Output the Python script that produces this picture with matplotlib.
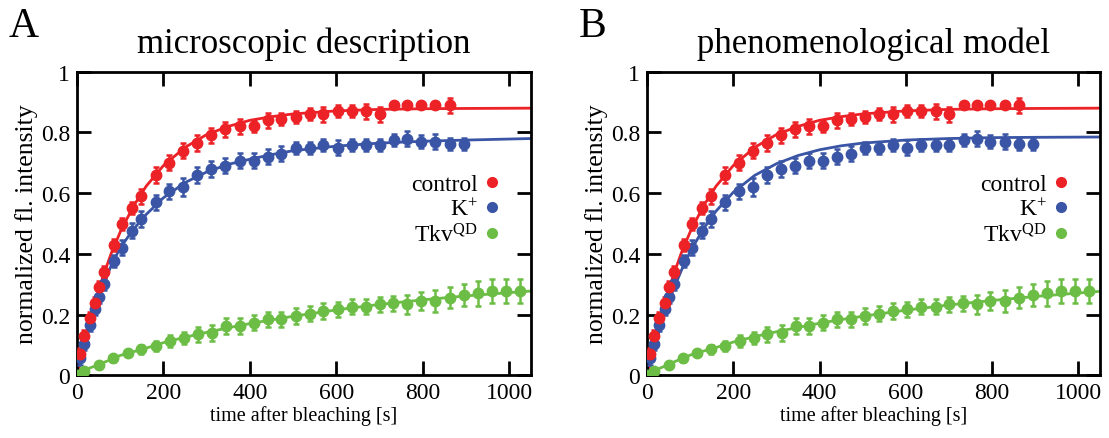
import matplotlib
matplotlib.use("Agg")
import matplotlib.pyplot as plt
from matplotlib.lines import Line2D

plt.rcParams["font.family"] = "Liberation Serif"
plt.rcParams["mathtext.fontset"] = "custom"
plt.rcParams["mathtext.rm"] = "Liberation Serif"
plt.rcParams["mathtext.it"] = "Liberation Serif:italic"

# mesures (identiques pour A et B)
t_ctrl = [6, 17, 29, 41, 50, 62, 85, 105, 127, 149, 182, 213, 245, 278, 310, 343, 376,
          409, 441, 473, 506, 538, 570, 603, 635, 669, 700, 734, 764, 796, 829, 862]
v_ctrl = [0.07, 0.13, 0.19, 0.24, 0.29, 0.34, 0.43, 0.50, 0.55, 0.59, 0.66, 0.70, 0.74,
          0.765, 0.79, 0.81, 0.82, 0.82, 0.84, 0.845, 0.85, 0.86, 0.86, 0.87, 0.87, 0.87,
          0.86, 0.89, 0.89, 0.89, 0.89, 0.89]
e_ctrl = [0.02, 0.02, 0.02, 0.02, 0.02, 0.02, 0.02, 0.02, 0.02, 0.025, 0.025, 0.025, 0.025,
          0.025, 0.025, 0.025, 0.025, 0.02, 0.025, 0.02, 0.02, 0.02, 0.025, 0.02, 0.02, 0.025,
          0.025, 0.0, 0.0, 0.0, 0.0, 0.025]

t_k = t_ctrl + [895]
v_k = [0.056, 0.105, 0.166, 0.218, 0.26, 0.30, 0.377, 0.42, 0.476, 0.515, 0.57, 0.606, 0.62,
       0.66, 0.68, 0.69, 0.707, 0.707, 0.72, 0.73, 0.75, 0.75, 0.76, 0.75, 0.76, 0.76, 0.76,
       0.775, 0.78, 0.77, 0.77, 0.762, 0.762]
e_k = [0.02, 0.02, 0.02, 0.02, 0.02, 0.02, 0.02, 0.025, 0.025, 0.025, 0.025, 0.025, 0.03,
       0.025, 0.025, 0.025, 0.025, 0.025, 0.025, 0.025, 0.02, 0.02, 0.02, 0.025, 0.02, 0.02,
       0.02, 0.02, 0.025, 0.02, 0.025, 0.02, 0.02]

t_qd = [0, 17, 51, 83, 117, 149, 182, 215, 248, 279, 312, 345, 376, 409, 441, 473, 506, 539,
        570, 603, 635, 669, 700, 732, 764, 796, 829, 862, 895, 927, 959, 992, 1024]
v_qd = [0, 0.014, 0.036, 0.056, 0.075, 0.086, 0.097, 0.114, 0.124, 0.135, 0.14, 0.163, 0.163,
        0.174, 0.185, 0.185, 0.196, 0.204, 0.212, 0.218, 0.227, 0.227, 0.234, 0.238, 0.234,
        0.245, 0.245, 0.256, 0.265, 0.27, 0.278, 0.278, 0.278]
e_qd = [0, 0, 0, 0.01, 0.01, 0.015, 0.015, 0.02, 0.02, 0.025, 0.025, 0.025, 0.025, 0.025,
        0.025, 0.025, 0.025, 0.025, 0.025, 0.025, 0.025, 0.025, 0.025, 0.025, 0.03, 0.03,
        0.035, 0.035, 0.035, 0.04, 0.04, 0.04, 0.04]

# courbes des modèles
t_fit = [0, 20, 40, 60, 80, 100, 130, 160, 200, 250, 300, 350, 400, 450, 500, 600, 700,
         800, 900, 1050]
fitA_ctrl = [0, 0.126, 0.233, 0.325, 0.405, 0.472, 0.556, 0.623, 0.691, 0.751, 0.793, 0.820,
             0.840, 0.852, 0.861, 0.871, 0.876, 0.878, 0.879, 0.88]
fitA_k = [0, 0.115, 0.215, 0.295, 0.365, 0.42, 0.48, 0.53, 0.585, 0.635, 0.67, 0.695, 0.712,
          0.727, 0.74, 0.755, 0.765, 0.771, 0.775, 0.78]
fitA_qd = [0, 0.02, 0.03, 0.042, 0.053, 0.066, 0.078, 0.09, 0.108, 0.126, 0.142, 0.157, 0.171,
           0.183, 0.195, 0.216, 0.234, 0.249, 0.262, 0.278]
fitB_ctrl = [0, 0.126, 0.233, 0.325, 0.405, 0.472, 0.556, 0.623, 0.691, 0.751, 0.793, 0.820,
             0.840, 0.852, 0.861, 0.871, 0.876, 0.878, 0.879, 0.88]
fitB_k = [0, 0.107, 0.199, 0.279, 0.347, 0.407, 0.481, 0.541, 0.603, 0.659, 0.697, 0.724,
          0.743, 0.756, 0.765, 0.775, 0.780, 0.783, 0.784, 0.785]
fitB_qd = [0, 0.018, 0.03, 0.043, 0.055, 0.067, 0.08, 0.092, 0.11, 0.128, 0.144, 0.158, 0.172,
           0.184, 0.195, 0.215, 0.232, 0.247, 0.26, 0.277]

ROUGE = "#ec2227"
BLEU = "#3a55a5"
VERT = "#6cbd45"

fig = plt.figure(figsize=(11.09, 4.39), dpi=100)
axA = fig.add_axes([0.0694, 0.1424, 0.4094, 0.692])
axB = fig.add_axes([0.5834, 0.1424, 0.4084, 0.692])

panneaux = [
    (axA, "A", "microscopic description", fitA_ctrl, fitA_k, fitA_qd),
    (axB, "B", "phenomenological model", fitB_ctrl, fitB_k, fitB_qd),
]

for ax, lettre, titre, f_ctrl, f_k, f_qd in panneaux:
    for t, v, e, f, c in [(t_qd, v_qd, e_qd, f_qd, VERT), (t_k, v_k, e_k, f_k, BLEU),
                          (t_ctrl, v_ctrl, e_ctrl, f_ctrl, ROUGE)]:
        ax.plot(t_fit, f, color=c, lw=2, zorder=2)
        ax.errorbar(t, v, yerr=e, fmt="o", color=c, ms=7.5, elinewidth=1.8,
                    capsize=2, capthick=1.8, zorder=3)
    ax.set_xlim(0, 1050)
    ax.set_ylim(0, 1)
    ax.set_xticks([0, 200, 400, 600, 800, 1000])
    ax.set_yticks([0, 0.2, 0.4, 0.6, 0.8, 1])
    ax.set_yticklabels(["0", "0.2", "0.4", "0.6", "0.8", "1"])
    ax.tick_params(direction="in", length=10, width=2, top=True, right=True,
                   labelsize=17, pad=5)
    for s in ax.spines.values():
        s.set_linewidth(2)
    ax.set_xlabel("time after bleaching [s]", fontsize=14.5, labelpad=1)
    ax.set_ylabel("normalized fl. intensity", fontsize=18.5, labelpad=2)
    ax.set_title(titre, fontsize=25, pad=14)
    ax.text(-0.15, 1.15, lettre, transform=ax.transAxes, fontsize=30, va="center")

    poignees = [Line2D([], [], ls="none", marker="o", ms=7, color=c)
                for c in (ROUGE, BLEU, VERT)]
    ax.legend(poignees, ["control", r"K$^{\mathrm{+}}$", r"Tkv$^{\mathrm{QD}}$"],
              loc="center right", bbox_to_anchor=(0.955, 0.545), frameon=False,
              markerfirst=False, handlelength=0.6, handletextpad=0.3,
              labelspacing=0.15, fontsize=17, borderpad=0)

fig.savefig("out.png", dpi=100)
